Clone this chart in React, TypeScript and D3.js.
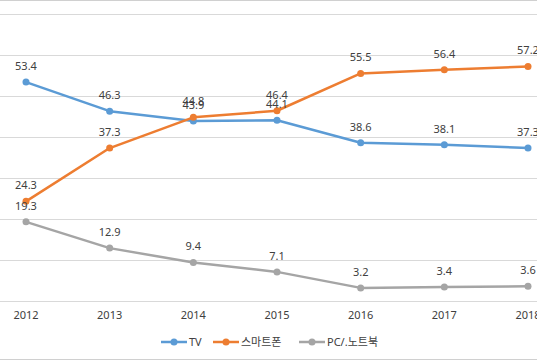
import React from "react";
import * as d3 from "d3";

const years = ["2012", "2013", "2014", "2015", "2016", "2017", "2018"];
const tv = [53.4, 46.3, 43.9, 44.1, 38.6, 38.1, 37.3];
const smartphone = [24.3, 37.3, 44.8, 46.4, 55.5, 56.4, 57.2];
const pc = [19.3, 12.9, 9.4, 7.1, 3.2, 3.4, 3.6];
const seriesNames = ["TV", "스마트폰", "PC/.노트북"];
const colors = ["#5B9BD5", "#ED7D31", "#A5A5A5"];
const gridTicks = [0, 10, 20, 30, 40, 50, 60, 70];

const W = 537;
const H = 360;

export default function App() {
  const x = d3.scalePoint<string>().domain(years).range([26, 528]);
  const y = d3.scaleLinear().domain([0, 70]).range([301, 14]);
  const all = [tv, smartphone, pc];
  const line = d3
    .line<number>()
    .x((_, i) => x(years[i]) as number)
    .y((d) => y(d));
  const font = "'Noto Sans', 'Noto Sans CJK KR', sans-serif";
  const legendX = [161, 213, 299];
  return (
    <svg
      width={W}
      height={H}
      style={{ position: "absolute", left: 0, top: 0, background: "#fff" }}
      fontFamily={font}
    >
      <rect x={0} y={0} width={W} height={H} fill="#fff" />
      <line x1={0} x2={W} y1={0.5} y2={0.5} stroke="#D0D0D0" />
      {gridTicks.map((t) => (
        <line key={t} x1={0} x2={W} y1={Math.round(y(t)) + 0.5} y2={Math.round(y(t)) + 0.5} stroke="#D9D9D9" />
      ))}
      <line x1={0} x2={W} y1={359.5} y2={359.5} stroke="#D0D0D0" />
      {all.map((s, si) => (
        <g key={si}>
          <path d={line(s) || ""} fill="none" stroke={colors[si]} strokeWidth={2.5} strokeLinejoin="round" />
          {s.map((v, i) => (
            <circle key={i} cx={x(years[i])} cy={y(v)} r={3.5} fill={colors[si]} />
          ))}
        </g>
      ))}
      {all.map((s, si) =>
        s.map((v, i) => (
          <text
            key={si + "-" + i}
            x={x(years[i])}
            y={y(v) - 12}
            textAnchor="middle"
            fontSize={11}
            fill="#404040"
          >
            {v.toFixed(1)}
          </text>
        ))
      )}
      {years.map((yr) => (
        <text key={yr} x={x(yr)} y={319} textAnchor="middle" fontSize={11} fill="#404040">
          {yr}
        </text>
      ))}
      {seriesNames.map((n, i) => (
        <g key={n}>
          <line x1={legendX[i]} x2={legendX[i] + 26} y1={342} y2={342} stroke={colors[i]} strokeWidth={2.5} />
          <circle cx={legendX[i] + 13} cy={342} r={3.5} fill={colors[i]} />
          <text x={legendX[i] + 28} y={346} fontSize={11} fill="#404040">
            {n}
          </text>
        </g>
      ))}
    </svg>
  );
}
